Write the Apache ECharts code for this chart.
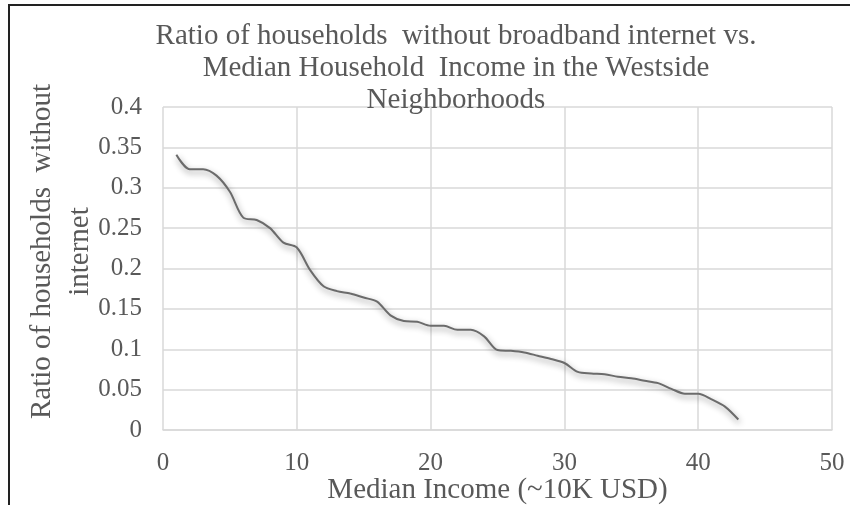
<!DOCTYPE html>
<html>
<head>
<meta charset="utf-8">
<script src="https://cdn.jsdelivr.net/npm/echarts@6/dist/echarts.min.js"></script>
<style>
  html, body { margin: 0; padding: 0; background: #fff; }
  #main { width: 850px; height: 505px; }
</style>
</head>
<body>
<div id="main"></div>
<script>
// median income (~10K USD) and ratio of households without internet
let incomes = [1, 2, 3, 4, 5, 6, 7, 8, 9, 10, 11, 12, 13, 14, 15, 16, 17, 18, 19, 20, 21,
    22, 23, 24, 25, 26, 27, 28, 29, 30, 31, 32, 33, 34, 35, 36, 37, 38, 39, 40, 41, 42, 43];
let ratios = [0.341, 0.323, 0.323, 0.315, 0.295, 0.263, 0.260, 0.250, 0.232, 0.226,
    0.198, 0.178, 0.172, 0.169, 0.164, 0.159, 0.142, 0.135, 0.134, 0.129,
    0.129, 0.124, 0.124, 0.116, 0.099, 0.098, 0.096, 0.092, 0.088, 0.083,
    0.072, 0.070, 0.069, 0.066, 0.064, 0.061, 0.058, 0.051, 0.045, 0.045,
    0.038, 0.029, 0.013];
let titleText = 'Ratio of households  without broadband internet vs.\nMedian Household  Income in the Westside\nNeighborhoods';
let xName = 'Median Income (~10K USD)';
let yName = 'Ratio of households  without\ninternet';

let font = 'Liberation Serif';
let grey = '#595959';
let gridGrey = '#d9d9d9';

let points = [];
for (let i = 0; i < incomes.length; i++){
    points.push([incomes[i], ratios[i]]);
}

let option = {
    animation: false,
    backgroundColor: '#fff',
    title: {
        text: titleText,
        left: 451,
        top: 15,
        textAlign: 'center',
        textStyle: {
            fontFamily: font,
            fontWeight: 'normal',
            fontSize: 29,
            color: grey,
            lineHeight: 32
        }
    },
    grid: {left: 163, right: 18, top: 107, bottom: 75, outerBoundsMode: 'none'},
    xAxis: {
        type: 'value',
        min: 0,
        max: 50,
        interval: 10,
        name: xName,
        nameLocation: 'middle',
        nameGap: 46,
        nameMoveOverlap: false,
        nameTextStyle: {fontFamily: font, fontSize: 29, color: grey},
        axisLine: {show: true, lineStyle: {color: gridGrey, width: 1.5}},
        axisTick: {show: false},
        axisLabel: {fontFamily: font, fontSize: 25, color: grey, margin: 21},
        splitLine: {show: true, lineStyle: {color: gridGrey, width: 1.5}}
    },
    yAxis: {
        type: 'value',
        min: 0,
        max: 0.4,
        interval: 0.05,
        name: yName,
        nameLocation: 'middle',
        nameGap: 64,
        nameMoveOverlap: false,
        nameTextStyle: {fontFamily: font, fontSize: 29, color: grey, lineHeight: 38, padding: [0, 0, 0, 34]},
        axisLine: {show: false},
        axisTick: {show: false},
        axisLabel: {fontFamily: font, fontSize: 25, color: grey, margin: 21},
        splitLine: {show: true, lineStyle: {color: gridGrey, width: 1.5}}
    },
    graphic: [{
        type: 'polyline',
        shape: {points: [[9, 505], [9, 5], [850, 5]]},
        style: {stroke: '#222', lineWidth: 2, fill: null}
    }],
    series: [{
        type: 'line',
        data: points,
        smooth: 0.3,
        symbol: 'none',
        lineStyle: {
            color: '#6b6b6b',
            width: 2,
            shadowColor: 'rgba(0,0,0,0.45)',
            shadowBlur: 6,
            shadowOffsetX: 1,
            shadowOffsetY: 3
        }
    }]
};

let chart = echarts.init(document.getElementById('main'));
chart.setOption(option);
</script>
</body>
</html>
